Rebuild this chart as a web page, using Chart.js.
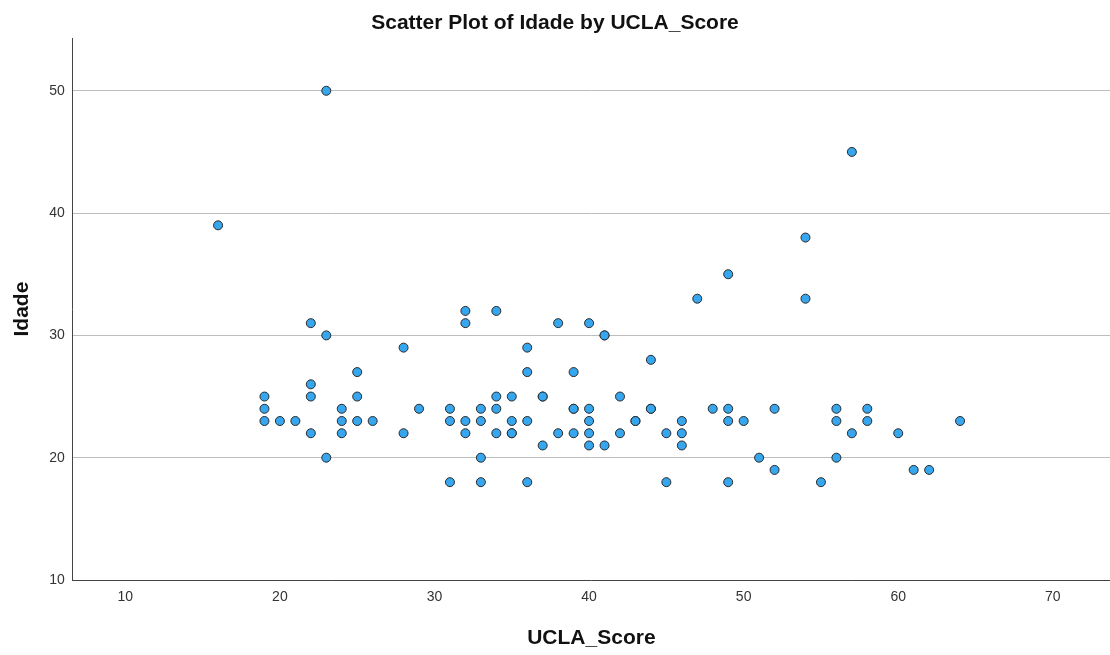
<!DOCTYPE html>
<html>
<head>
<meta charset="utf-8">
<script src="https://cdn.jsdelivr.net/npm/chart.js@4/dist/chart.umd.min.js"></script>
<style>
  body { margin: 0; background: #fff; }
  #wrap { width: 1110px; height: 655px; }
</style>
</head>
<body>
<div id="wrap"><canvas id="scatter" width="1110" height="655"></canvas></div>
<script>
// UCLA_Score (x) and Idade (y), one entry per respondent
const ucla = [
  16, 19, 19, 19, 20, 21, 22, 22, 22, 22, 23, 23, 23, 24, 24, 24,
  25, 25, 25, 26, 28, 28, 29, 31, 31, 31, 32, 32, 32, 32,
  33, 33, 33, 33, 34, 34, 34, 34, 35, 35, 35, 35, 36, 36, 36, 36,
  37, 37, 37, 38, 38, 39, 39, 39, 39, 40, 40, 40, 40, 40, 41, 41, 41,
  42, 42, 43, 43, 44, 44, 44, 45, 45, 46, 46, 46, 47, 48,
  49, 49, 49, 49, 50, 51, 52, 52, 54, 54, 55, 56, 56, 56,
  57, 57, 58, 58, 60, 61, 62, 64
];
const idade = [
  39, 25, 24, 23, 23, 23, 31, 26, 25, 22, 50, 30, 20, 24, 23, 22,
  27, 25, 23, 23, 29, 22, 24, 24, 23, 18, 32, 31, 23, 22,
  24, 23, 20, 18, 32, 25, 24, 22, 25, 23, 22, 22, 29, 27, 23, 18,
  25, 25, 21, 31, 22, 27, 24, 24, 22, 31, 24, 23, 22, 21, 30, 30, 21,
  25, 22, 23, 23, 28, 24, 24, 22, 18, 23, 22, 21, 33, 24,
  35, 24, 23, 18, 23, 20, 24, 19, 38, 33, 18, 24, 23, 20,
  45, 22, 24, 23, 22, 19, 19, 23
];

const xTicks = [10, 20, 30, 40, 50, 60, 70];
const yTicks = [10, 20, 30, 40, 50];

const points = ucla.map((x, i) => ({ x: x, y: idade[i] }));

const fam = "'Liberation Sans', Arial, sans-serif";

new Chart(document.getElementById("scatter"), {
  type: "scatter",
  data: {
    datasets: [{
      data: points,
      backgroundColor: "#36a6ee",
      borderColor: "#2a2a2a",
      borderWidth: 1,
      pointRadius: 4.5,
      pointHoverRadius: 4.5
    }]
  },
  options: {
    responsive: false,
    animation: false,
    layout: { autoPadding: false, padding: { left: 0, right: 0, top: 0, bottom: 3 } },
    plugins: {
      legend: { display: false },
      tooltip: { enabled: false },
      title: {
        display: true,
        text: "Scatter Plot of Idade by UCLA_Score",
        color: "#111",
        font: { family: fam, size: 21, weight: "bold" },
        padding: { top: 11, bottom: 2 }
      }
    },
    scales: {
      x: {
        type: "linear",
        min: 6.6,
        max: 73.7,
        afterBuildTicks: s => { s.ticks = xTicks.map(v => ({ value: v })); },
        grid: { display: false, drawTicks: false },
        border: { color: "#444", width: 1 },
        ticks: { color: "#333", font: { family: fam, size: 14 }, padding: 9 },
        title: {
          display: true,
          text: "UCLA_Score",
          color: "#111",
          font: { family: fam, size: 21, weight: "bold" },
          padding: { top: 11, bottom: 1 }
        }
      },
      y: {
        type: "linear",
        min: 10,
        max: 54.3,
        afterBuildTicks: s => { s.ticks = yTicks.map(v => ({ value: v })); },
        grid: { color: "#bdbdbd", drawTicks: false },
        border: { color: "#444", width: 1 },
        ticks: { color: "#333", font: { family: fam, size: 14 }, padding: 8 },
        title: {
          display: true,
          text: "Idade",
          color: "#111",
          font: { family: fam, size: 21, weight: "bold" },
          padding: { top: 9.5, bottom: 6.5 }
        }
      }
    }
  }
});
</script>
</body>
</html>
